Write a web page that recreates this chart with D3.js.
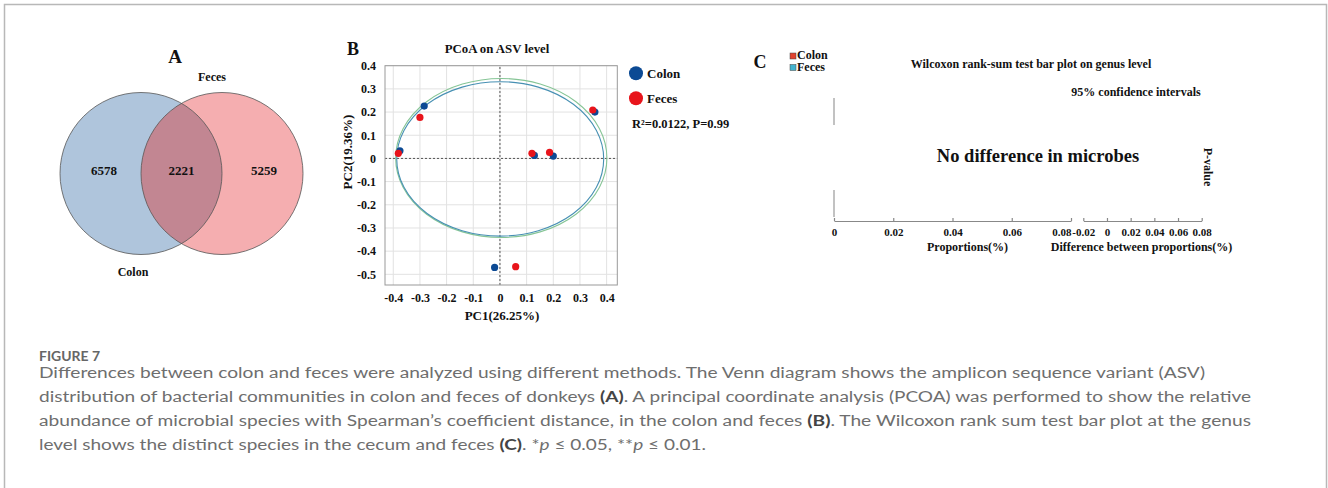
<!DOCTYPE html>
<html>
<head>
<meta charset="utf-8">
<script src="https://cdn.jsdelivr.net/npm/d3@7"></script>
<style>
  html, body { margin: 0; padding: 0; background: #fff; }
  svg { display: block; }
  .serif { font-family: "Liberation Serif", "Times New Roman", serif; font-weight: bold; fill: #111; }
</style>
</head>
<body>
<svg id="chart" width="1328" height="488"></svg>
<script>
// ---------------- DATA ----------------
// Panel A: Venn
const vennSets = ["Colon", "Feces"];
const vennCounts = [6578, 2221, 5259]; // colon only, shared, feces only

// Panel B: PCoA
const pcoaGroups = ["Colon", "Feces"];
const colonPC1 = [-0.284, -0.375, 0.129, 0.200, 0.356, -0.020];
const colonPC2 = [0.226, 0.033, 0.013, 0.010, 0.200, -0.470];
const fecesPC1 = [-0.300, -0.381, 0.120, 0.186, 0.348, 0.059];
const fecesPC2 = [0.177, 0.022, 0.022, 0.026, 0.209, -0.467];
const ellipseCx = [0.005, 0.001];
const ellipseCy = [0.002, -0.002];
const ellipseRx = [0.396, 0.388];
const ellipseRy = [0.343, 0.333];
const pc1Ticks = [-0.4, -0.3, -0.2, -0.1, 0, 0.1, 0.2, 0.3, 0.4];
const pc2Ticks = [0.4, 0.3, 0.2, 0.1, 0, -0.1, -0.2, -0.3, -0.4, -0.5];
const pcoaStat = "R²=0.0122, P=0.99";

// Panel C: Wilcoxon
const wilcoxGroups = ["Colon", "Feces"];
const propTicks = [0, 0.02, 0.04, 0.06, 0.08];
const diffTicks = [-0.02, 0, 0.02, 0.04, 0.06, 0.08];

// Caption
const captionTitle = "FIGURE 7";

// ---------------- DRAW ----------------
const svg = d3.select("#chart");

// frame
svg.append("path")
  .attr("d", "M4.5,492 V4.5 H1326.5 V492")
  .attr("fill", "none").attr("stroke", "#b8b8b8").attr("stroke-width", 1.5);

// ===== Panel A =====
const gA = svg.append("g");
const vennR = 81, vennCy = 173.5;
const vennX = d3.scaleLinear().domain([0, 1]).range([141, 222]);
const defs = svg.append("defs");
defs.append("clipPath").attr("id", "clipLeft")
  .append("circle").attr("cx", vennX(0)).attr("cy", vennCy).attr("r", vennR);

gA.append("circle").attr("cx", vennX(0)).attr("cy", vennCy).attr("r", vennR)
  .attr("fill", "#afc5dc");
gA.append("circle").attr("cx", vennX(1)).attr("cy", vennCy).attr("r", vennR)
  .attr("fill", "#f5aeb0");
gA.append("circle").attr("cx", vennX(1)).attr("cy", vennCy).attr("r", vennR)
  .attr("fill", "#c28692").attr("clip-path", "url(#clipLeft)");
[0, 1].forEach(i => {
  gA.append("circle").attr("cx", vennX(i)).attr("cy", vennCy).attr("r", vennR)
    .attr("fill", "none").attr("stroke", "#555").attr("stroke-width", 0.8);
});
const countX = [vennX(0) - 37, (vennX(0) + vennX(1)) / 2, vennX(1) + 42];
gA.selectAll("text.count").data(vennCounts).enter().append("text")
  .attr("class", "serif count")
  .attr("x", (d, i) => countX[i]).attr("y", 170)
  .attr("dy", "0.35em").attr("text-anchor", "middle")
  .style("font-size", "13px").text(d => d);
gA.append("text").attr("class", "serif").attr("x", 175).attr("y", 56).attr("dy", "0.35em")
  .attr("text-anchor", "middle").style("font-size", "19px").text("A");
gA.append("text").attr("class", "serif").attr("x", 212).attr("y", 77).attr("dy", "0.35em")
  .attr("text-anchor", "middle").style("font-size", "12px").text(vennSets[1]);
gA.append("text").attr("class", "serif").attr("x", 133).attr("y", 272).attr("dy", "0.35em")
  .attr("text-anchor", "middle").style("font-size", "12px").text(vennSets[0]);

// ===== Panel B =====
const gB = svg.append("g");
const bx = d3.scaleLinear().domain([-0.431, 0.44]).range([385, 617.3]);
const by = d3.scaleLinear().domain([-0.546, 0.4]).range([285, 65.7]);

// grid
gB.selectAll("line.vg").data(pc1Ticks).enter().append("line")
  .attr("x1", d => bx(d)).attr("x2", d => bx(d))
  .attr("y1", by.range()[0]).attr("y2", by.range()[1])
  .attr("stroke", "#e2e2e2").attr("stroke-width", 1);
gB.selectAll("line.hg").data(pc2Ticks).enter().append("line")
  .attr("y1", d => by(d)).attr("y2", d => by(d))
  .attr("x1", bx.range()[0]).attr("x2", bx.range()[1])
  .attr("stroke", "#e2e2e2").attr("stroke-width", 1);
// zero lines
gB.append("line").attr("x1", bx(0)).attr("x2", bx(0))
  .attr("y1", by.range()[0]).attr("y2", by.range()[1])
  .attr("stroke", "#555").attr("stroke-dasharray", "2,2").attr("stroke-width", 1);
gB.append("line").attr("y1", by(0)).attr("y2", by(0))
  .attr("x1", bx.range()[0]).attr("x2", bx.range()[1])
  .attr("stroke", "#555").attr("stroke-dasharray", "2,2").attr("stroke-width", 1);

// axes
const fmt = d => d === 0 ? "0" : d3.format(".1f")(d).replace("−", "-");
const xAxisB = gB.append("g").attr("transform", `translate(0,${by.range()[0]})`)
  .call(d3.axisBottom(bx).tickValues(pc1Ticks).tickFormat(fmt).tickSize(0).tickPadding(8));
const yAxisB = gB.append("g").attr("transform", `translate(${bx.range()[0]},0)`)
  .call(d3.axisLeft(by).tickValues(pc2Ticks).tickFormat(fmt).tickSize(0).tickPadding(9));
[xAxisB, yAxisB].forEach(a => {
  a.select(".domain").remove();
  a.selectAll("text").attr("class", "serif").style("font-size", "12px")
    .attr("font-family", null);
});
// box
gB.append("rect").attr("x", bx.range()[0]).attr("y", by.range()[1])
  .attr("width", bx.range()[1] - bx.range()[0]).attr("height", by.range()[0] - by.range()[1])
  .attr("fill", "none").attr("stroke", "#999").attr("stroke-width", 1);

// ellipses
const ellColors = ["#86c596", "#4790b3"];
ellipseCx.forEach((cx, i) => {
  gB.append("ellipse")
    .attr("cx", bx(cx)).attr("cy", by(ellipseCy[i]))
    .attr("rx", bx(cx + ellipseRx[i]) - bx(cx))
    .attr("ry", by(ellipseCy[i]) - by(ellipseCy[i] + ellipseRy[i]))
    .attr("fill", "none").attr("stroke", ellColors[i]).attr("stroke-width", 1.1);
});

// points
const ptColors = ["#0c4a94", "#e8141b"];
const colonPts = colonPC1.map((v, i) => [v, colonPC2[i]]);
const fecesPts = fecesPC1.map((v, i) => [v, fecesPC2[i]]);
[colonPts, fecesPts].forEach((pts, gi) => {
  gB.selectAll(null).data(pts).enter().append("circle")
    .attr("cx", d => bx(d[0])).attr("cy", d => by(d[1])).attr("r", 3.6)
    .attr("fill", ptColors[gi]);
});

// labels
gB.append("text").attr("class", "serif").attr("x", 353).attr("y", 49).attr("dy", "0.35em")
  .attr("text-anchor", "middle").style("font-size", "18px").text("B");
gB.append("text").attr("class", "serif").attr("x", 497).attr("y", 48.5).attr("dy", "0.35em")
  .attr("text-anchor", "middle").style("font-size", "12.8px").text("PCoA on ASV level");
gB.append("text").attr("class", "serif").attr("x", 502).attr("y", 315).attr("dy", "0.35em")
  .attr("text-anchor", "middle").style("font-size", "13px").text("PC1(26.25%)");
gB.append("text").attr("class", "serif")
  .attr("transform", "translate(347,152) rotate(-90)").attr("dy", "0.35em")
  .attr("text-anchor", "middle").style("font-size", "13px").text("PC2(19.36%)");
// legend
pcoaGroups.forEach((g, i) => {
  const ly = 73.3 + i * 25;
  gB.append("circle").attr("cx", 636).attr("cy", ly).attr("r", 7).attr("fill", ptColors[i]);
  gB.append("text").attr("class", "serif").attr("x", 647).attr("y", ly).attr("dy", "0.35em")
    .style("font-size", "13px").text(g);
});
gB.append("text").attr("class", "serif").attr("x", 632).attr("y", 124).attr("dy", "0.35em")
  .style("font-size", "12.5px").text(pcoaStat);

// ===== Panel C =====
const gC = svg.append("g");
const cProp = d3.scaleLinear().domain([0, 0.08]).range([834, 1071]);
const cDiff = d3.scaleLinear().domain([-0.02, 0.08]).range([1083.3, 1201.7]);
const axisY = 221;
const cfmt = d => d === 0 ? "0" : d3.format(".2f")(d).replace("−", "-");
[[cProp, propTicks], [cDiff, diffTicks]].forEach(([sc, ticks], ai) => {
  const a = gC.append("g").attr("transform", `translate(0,${axisY})`)
    .call(d3.axisBottom(sc).tickValues(ticks).tickFormat(cfmt)
      .tickSizeInner(-3).tickSizeOuter(0).tickPadding(7.5));
  a.select(".domain").attr("stroke", "#888").attr("stroke-width", 1.2);
  a.selectAll(".tick line").attr("stroke", "#888").attr("stroke-width", 1.2);
  a.selectAll("text").attr("class", "serif").style("font-size", "11px").attr("font-family", null);
  if (ai === 0) {
    // last label on the proportions axis ends at its tick, as in the original
    a.selectAll(".tick").filter(d => d === ticks[ticks.length - 1]).select("text")
      .attr("text-anchor", "end").attr("x", 0);
  }
});
// partial vertical lines
gC.append("line").attr("x1", cProp(0)).attr("x2", cProp(0)).attr("y1", 98).attr("y2", 125)
  .attr("stroke", "#999").attr("stroke-width", 1.2);
gC.append("line").attr("x1", cProp(0)).attr("x2", cProp(0)).attr("y1", 190).attr("y2", 217)
  .attr("stroke", "#999").attr("stroke-width", 1.2);

gC.append("text").attr("class", "serif").attr("x", 760).attr("y", 62).attr("dy", "0.35em")
  .attr("text-anchor", "middle").style("font-size", "18px").text("C");
const sqColors = ["#e2432f", "#44b4cf"];
wilcoxGroups.forEach((g, i) => {
  const ly = 55.5 + i * 11.5;
  gC.append("rect").attr("x", 790).attr("y", ly - 2.5).attr("width", 6).attr("height", 6)
    .attr("fill", sqColors[i]).attr("stroke", "#444").attr("stroke-width", 0.5);
  gC.append("text").attr("class", "serif").attr("x", 797).attr("y", ly - 0.5).attr("dy", "0.35em")
    .style("font-size", "12px").text(g);
});
gC.append("text").attr("class", "serif").attr("x", 1031).attr("y", 64).attr("dy", "0.35em")
  .attr("text-anchor", "middle").style("font-size", "12px").text("Wilcoxon rank-sum test bar plot on genus level");
gC.append("text").attr("class", "serif").attr("x", 1136).attr("y", 91.5).attr("dy", "0.35em")
  .attr("text-anchor", "middle").style("font-size", "12px").text("95% confidence intervals");
gC.append("text").attr("class", "serif").attr("x", 1038).attr("y", 156).attr("dy", "0.35em")
  .attr("text-anchor", "middle").style("font-size", "18.5px").text("No difference in microbes");
gC.append("text").attr("class", "serif")
  .attr("transform", "translate(1208,167) rotate(90)").attr("dy", "0.35em")
  .attr("text-anchor", "middle").style("font-size", "12px").text("P-value");
gC.append("text").attr("class", "serif").attr("x", 967.5).attr("y", 246.5).attr("dy", "0.35em")
  .attr("text-anchor", "middle").style("font-size", "12px").text("Proportions(%)");
gC.append("text").attr("class", "serif").attr("x", 1141.5).attr("y", 246.5).attr("dy", "0.35em")
  .attr("text-anchor", "middle").style("font-size", "12px").text("Difference between proportions(%)");

// ===== Caption =====
const cap = svg.append("g").style("font-family", "Lato, 'Open Sans', sans-serif");
cap.append("text").attr("x", 39).attr("y", 360.5)
  .style("font-size", "12.5px").style("font-weight", "bold").attr("fill", "#666")
  .attr("textLength", 61).attr("lengthAdjust", "spacingAndGlyphs").text(captionTitle);

const captionLines = [
  { len: 1166, parts: [["Differences between colon and feces were analyzed using different methods. The Venn diagram shows the amplicon sequence variant (ASV)", ""]] },
  { len: 1212, parts: [["distribution of bacterial communities in colon and feces of donkeys ", ""], ["(A)", "b"], [". A principal coordinate analysis (PCOA) was performed to show the relative", ""]] },
  { len: 1212, parts: [["abundance of microbial species with Spearman\u2019s coefficient distance, in the colon and feces ", ""], ["(B)", "b"], [". The Wilcoxon rank sum test bar plot at the genus", ""]] },
  { len: 667, parts: [["level shows the distinct species in the cecum and feces ", ""], ["(C)", "b"], [". *", ""], ["p", "i"], [" \u2264 0.05, **", ""], ["p", "i"], [" \u2264 0.01.", ""]] }
];
captionLines.forEach((ln, i) => {
  const t = cap.append("text").attr("x", 39).attr("y", 378 + i * 24)
    .style("font-size", "15.5px").attr("fill", "#6e6e6e")
    .attr("textLength", ln.len).attr("lengthAdjust", "spacingAndGlyphs");
  ln.parts.forEach(([s, st]) => {
    const ts = t.append("tspan").text(s);
    if (st === "b") ts.style("font-weight", "bold").attr("fill", "#444");
    if (st === "i") ts.style("font-style", "italic");
  });
});
</script>
</body>
</html>
